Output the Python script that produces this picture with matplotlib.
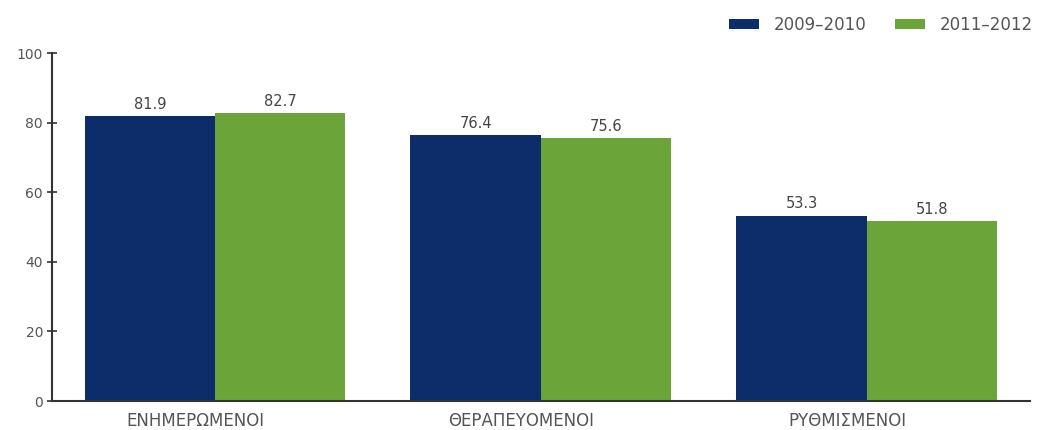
import matplotlib
matplotlib.use("Agg")
import matplotlib.pyplot as plt
import numpy as np
from matplotlib.patches import Patch

categories = ["ΕΝΗΜΕΡΩΜΕΝΟΙ", "ΘΕΡΑΠΕΥΟΜΕΝΟΙ", "ΡΥΘΜΙΣΜΕΝΟΙ"]
series_names = ["2009–2010", "2011–2012"]
values_2009_2010 = [81.9, 76.4, 53.3]
values_2011_2012 = [82.7, 75.6, 51.8]
yticks = [0, 20, 40, 60, 80, 100]

c_blue = "#0c2d69"
c_green = "#6ba53a"

plt.rcParams['font.family'] = ['DejaVu Sans']

fig = plt.figure(figsize=(10.41, 4.30), dpi=100)
ax = fig.add_axes([0.05, 0.0674, 0.939, 0.8093])

x = np.arange(len(categories))
w = 0.4
b1 = ax.bar(x - w / 2, values_2009_2010, w, color=c_blue, edgecolor="none")
b2 = ax.bar(x + w / 2, values_2011_2012, w, color=c_green, edgecolor="none")

for bars, vals in ((b1, values_2009_2010), (b2, values_2011_2012)):
    for r, v in zip(bars, vals):
        ax.text(r.get_x() + r.get_width() / 2, v + 1.2, f"{v:.1f}",
                ha="center", va="bottom", fontsize=10.5, color="#444444")

ax.set_xlim(-0.5, 2.5)
ax.set_ylim(0, 100)
ax.set_yticks(yticks)
ax.set_yticklabels([str(t) for t in yticks], fontsize=10, color="#555555")
ax.set_xticks(x - 0.06)
ax.set_xticklabels(categories, fontsize=12, color="#555555")
ax.tick_params(axis="x", length=0, pad=8)
ax.tick_params(axis="y", length=7, width=1.2, color="#333333", pad=3, direction="inout")

for s in ("top", "right"):
    ax.spines[s].set_visible(False)
for s in ("left", "bottom"):
    ax.spines[s].set_color("#333333")
    ax.spines[s].set_linewidth(1.5)

handles = [Patch(facecolor=c_blue, edgecolor="none"), Patch(facecolor=c_green, edgecolor="none")]
fig.legend(handles, series_names, loc="center left", bbox_to_anchor=(0.700, 0.943),
           ncol=2, frameon=False, fontsize=12, handlelength=1.8, handleheight=0.55,
           columnspacing=1.7, handletextpad=0.9, labelcolor="#555555",
           borderaxespad=0, borderpad=0)

fig.savefig("out.png", dpi=100, facecolor="white")
